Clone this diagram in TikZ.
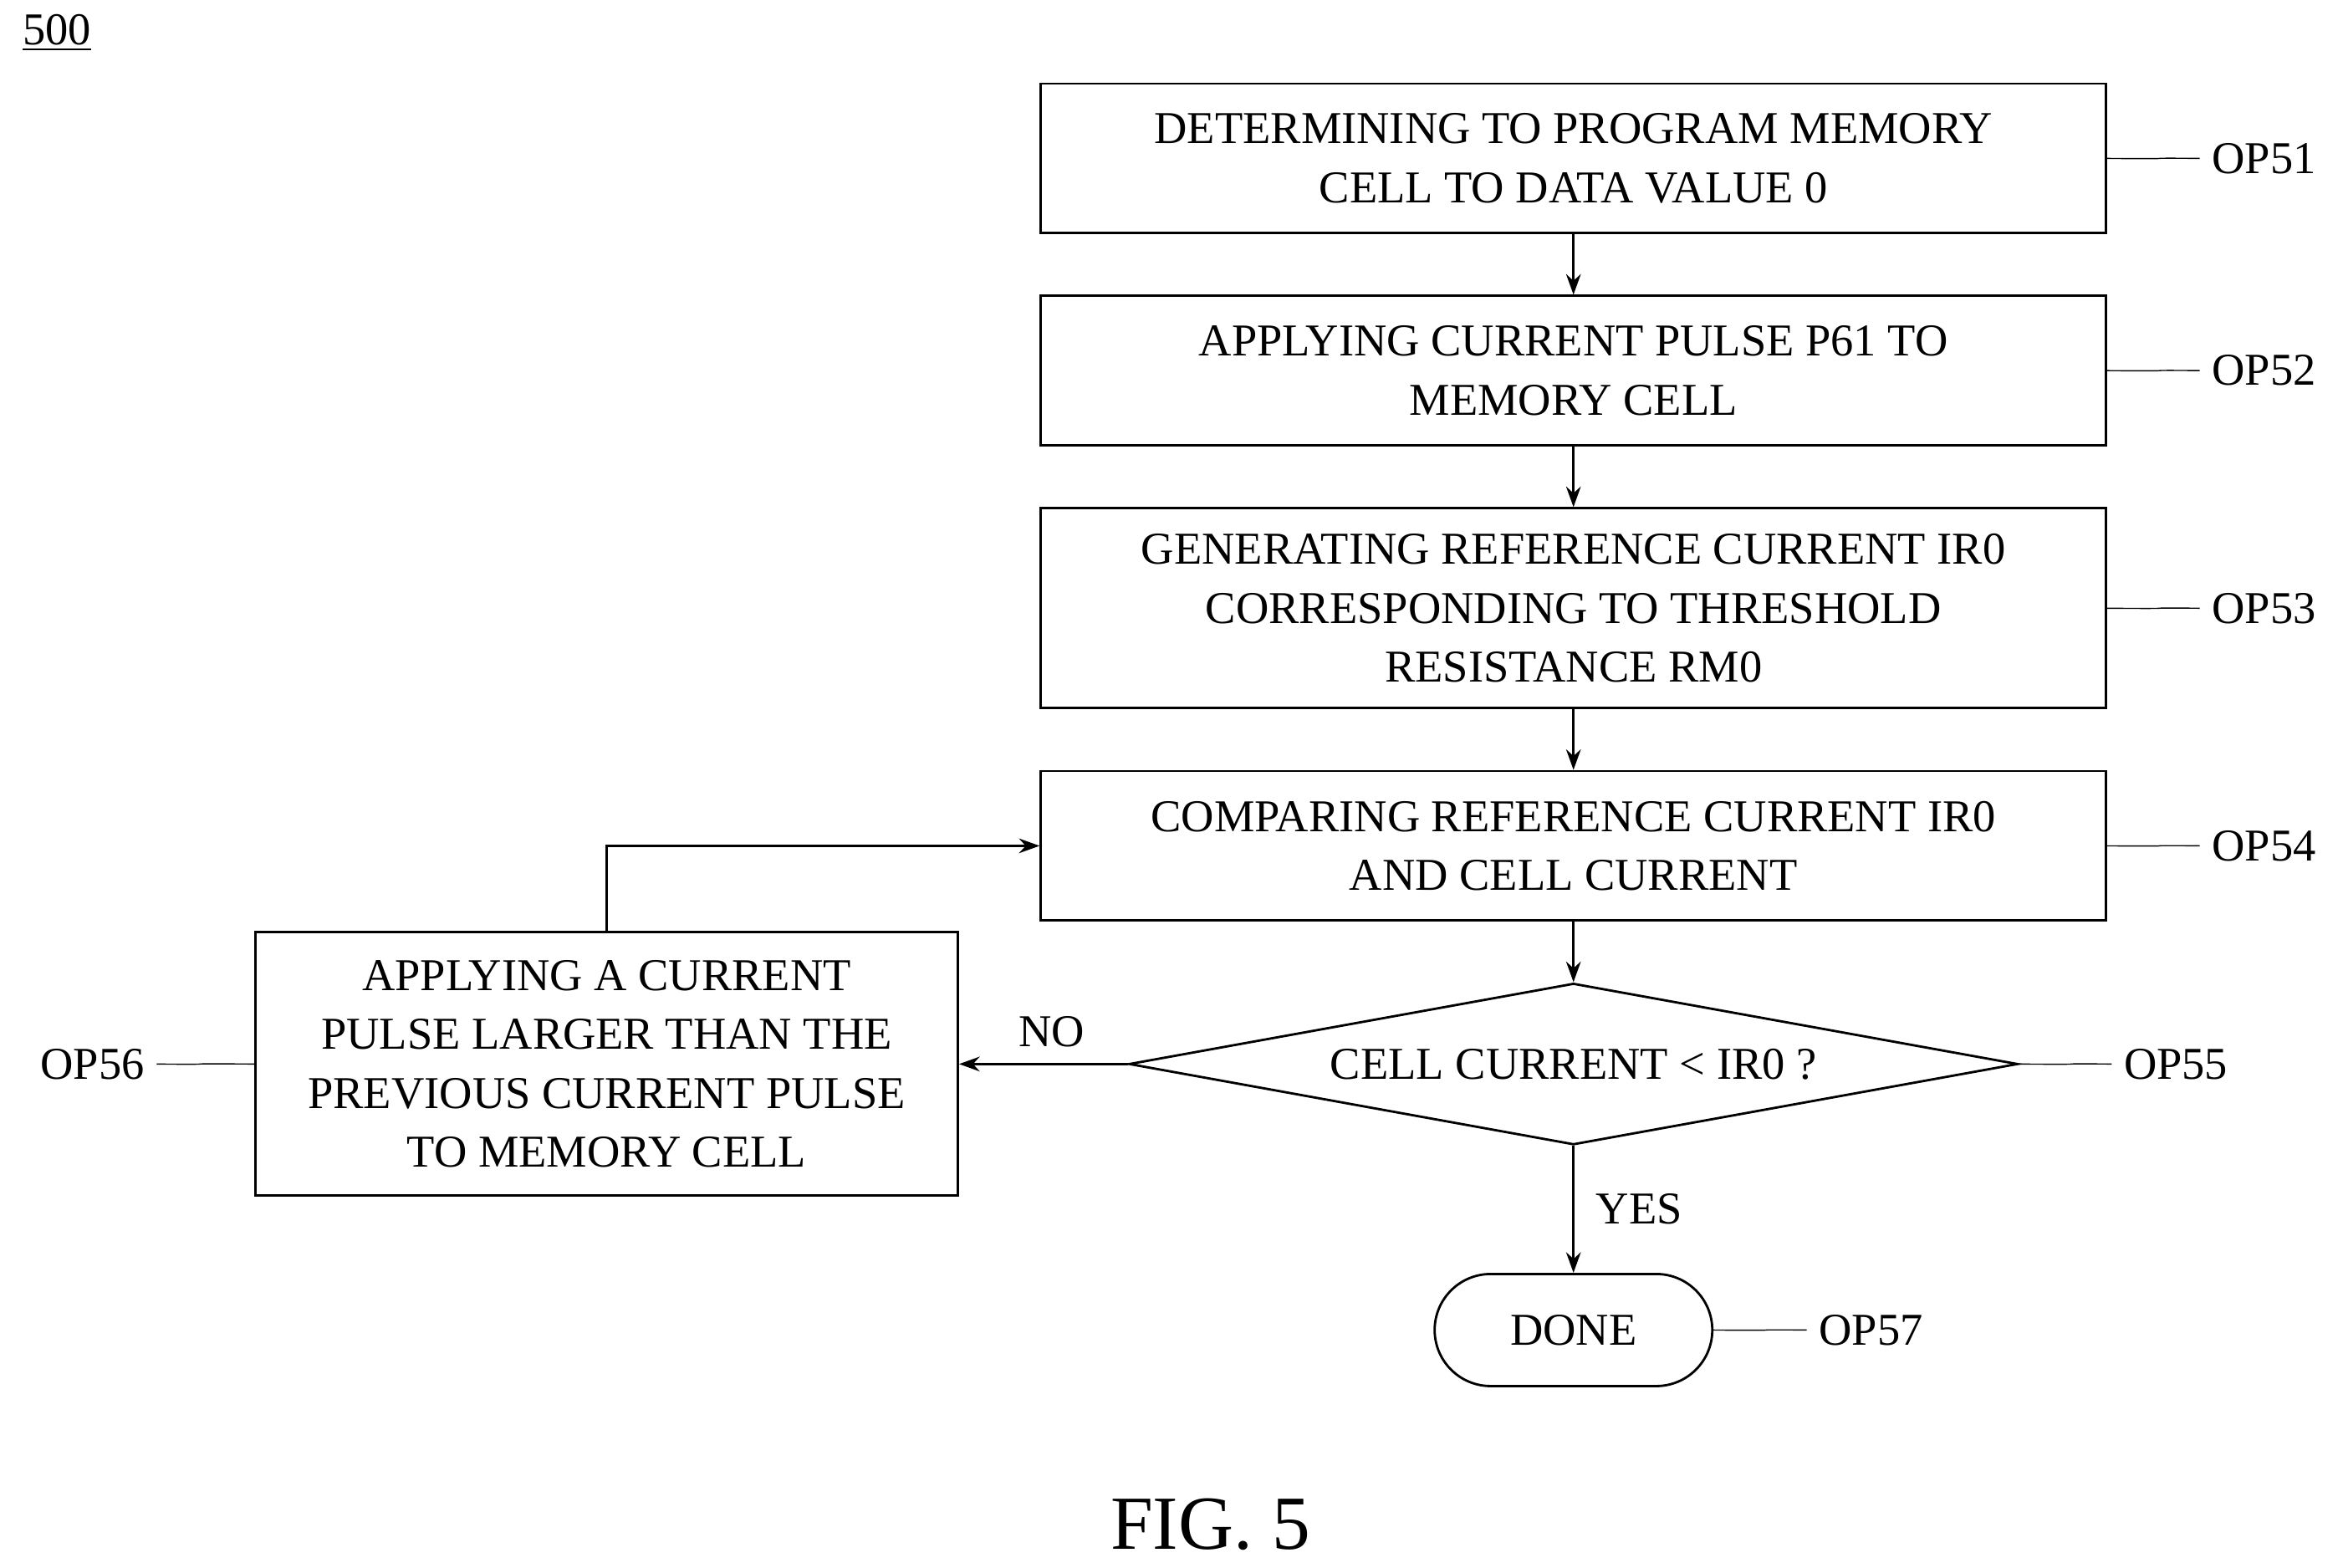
\documentclass[tikz,border=0pt]{standalone}
\usepackage{fontspec}
\setmainfont{Liberation Serif}
\usetikzlibrary{shapes.geometric,arrows.meta,calc}

\tikzset{
  opbox/.style={draw, thick, align=center, minimum width=12.74cm, minimum height=1.787cm},
  tag/.style={anchor=west, inner sep=0pt},
  squig/.style={thin},
  flow/.style={thick, -{Stealth[length=7pt,width=5pt]}}
}

\begin{document}
\begin{tikzpicture}[x=0.01787cm, y=-0.01787cm, font=\fontsize{15.5}{20}\selectfont]
  \useasboundingbox (0,0) rectangle (1568,1048.7);

  \node[inner sep=0pt] (num) at (38,22) {\underline{500}};

  \node[opbox] (op51) at (1053,106) {DETERMINING TO PROGRAM MEMORY\\CELL TO DATA VALUE 0};
  \node[opbox] (op52) at (1053,248) {APPLYING CURRENT PULSE P61 TO\\MEMORY CELL};
  \node[opbox, minimum height=2.39cm] (op53) at (1053,407) {GENERATING REFERENCE CURRENT IR0\\CORRESPONDING TO THRESHOLD\\RESISTANCE RM0};
  \node[opbox] (op54) at (1053,566) {COMPARING REFERENCE CURRENT IR0\\AND CELL CURRENT};
  \node[draw, thick, diamond, aspect=5.5, inner sep=0pt, minimum width=10.63cm, minimum height=1.93cm] (op55) at (1053,712) {CELL CURRENT < IR0 ?};
  \node[opbox, minimum width=8.4cm, minimum height=3.15cm] (op56) at (406,712) {APPLYING A CURRENT\\PULSE LARGER THAN THE\\PREVIOUS CURRENT PULSE\\TO MEMORY CELL};
  \node[draw, thick, minimum width=3.32cm, minimum height=1.34cm, rounded corners=0.67cm] (op57) at (1053,890) {DONE};

  % step tags
  \node[tag] (t51) at (1480,106) {OP51};
  \node[tag] (t52) at (1480,248) {OP52};
  \node[tag] (t53) at (1480,407) {OP53};
  \node[tag] (t54) at (1480,566) {OP54};
  \node[tag] (t55) at (1421,712) {OP55};
  \node[tag] (t57) at (1217,890) {OP57};
  \node[tag, anchor=east] (t56) at (97,712) {OP56};

  \foreach \b/\t in {op51/t51,op52/t52,op53/t53,op54/t54,op55/t55,op57/t57} {
    \draw[squig] (\b.east) .. controls +(0.5,0) and +(-0.3,0.3) .. ($(\b.east)!0.5!(\t.west)$)
      .. controls +(0.3,-0.3) and +(-0.5,0) .. ([xshift=-4pt]\t.west);
  }
  \draw[squig] (op56.west) .. controls +(-0.5,0) and +(0.3,-0.3) .. ($(op56.west)!0.5!(t56.east)$)
      .. controls +(-0.3,0.3) and +(0.5,0) .. ([xshift=4pt]t56.east);

  % arrows
  \draw[flow] (op51) -- (op52);
  \draw[flow] (op52) -- (op53);
  \draw[flow] (op53) -- (op54);
  \draw[flow] (op54) -- (op55);
  \draw[flow] (op55) -- node[right=4pt] {YES} (op57);
  \draw[flow] (op55.west) -- node[above=2pt, pos=0.45] {NO} (op56.east);
  \draw[flow] (op56.north) |- (op54.west);

  \node[font=\fontsize{26}{30}\selectfont] (fig) at (810,1020) {FIG. 5};
\end{tikzpicture}
\end{document}
